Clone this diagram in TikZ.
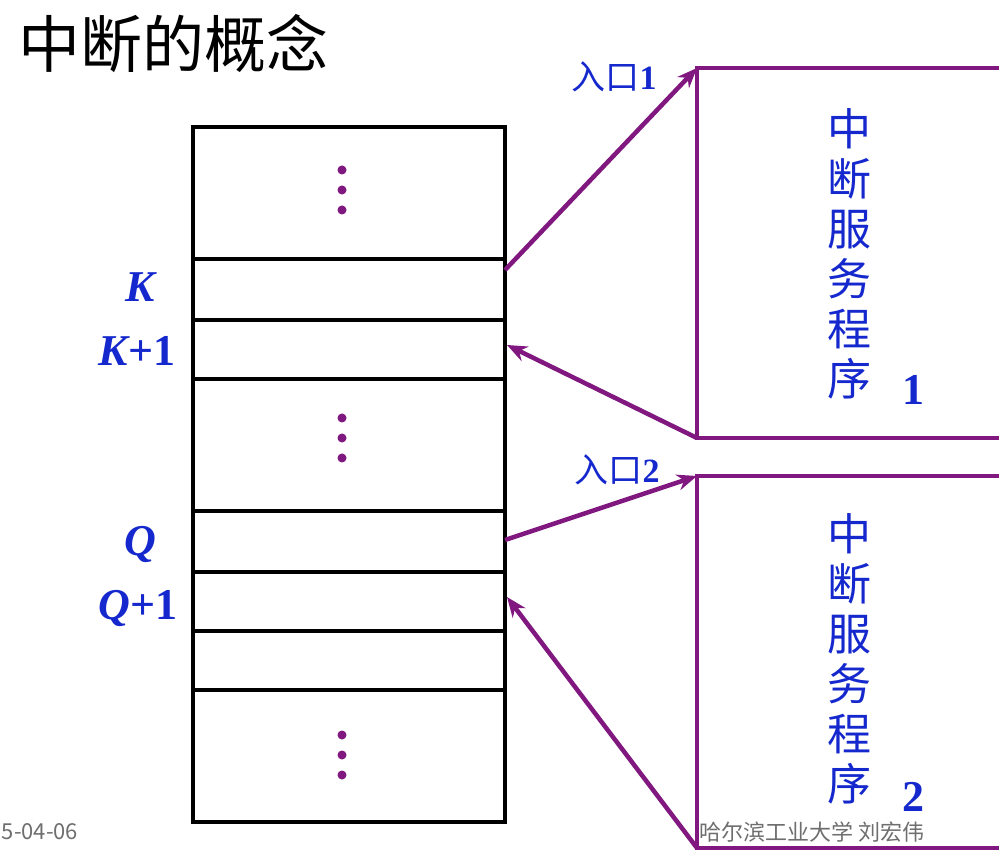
\documentclass[tikz,border=0pt]{standalone}
\usepackage{fontspec}
\setmainfont{Liberation Serif}
\newfontfamily\cjk{Noto Sans CJK SC}
\usetikzlibrary{arrows.meta}
\definecolor{lblue}{RGB}{20,40,205}
\definecolor{lpurple}{RGB}{128,24,128}
\definecolor{lgray}{RGB}{110,110,110}
\begin{document}
\begin{tikzpicture}[x=1pt,y=-1pt,
  memline/.style={line width=3.5pt,black},
  purp/.style={line width=4.5pt,lpurple},
  parrow/.style={line width=4.5pt,lpurple,-{Stealth[length=20pt,width=16pt]}},
  addr/.style={text=lblue,font=\bfseries\itshape\fontsize{44}{44}\selectfont,inner sep=0pt},
  entry/.style={text=lblue,font=\bfseries\fontsize{34}{34}\selectfont,inner sep=0pt},
  vtext/.style={text=lblue,font=\cjk\fontsize{44}{50}\selectfont,align=center,inner sep=0pt},
  num/.style={text=lblue,font=\bfseries\fontsize{44}{44}\selectfont,inner sep=0pt},
  dot/.style={circle,fill=lpurple,inner sep=0pt,minimum size=9pt},
  foot/.style={text=lgray,font=\cjk\fontsize{22}{22}\selectfont,inner sep=0pt}]
\useasboundingbox[fill=white] (0,0) rectangle (999,858);
% title
\node[font=\cjk\fontsize{62}{62}\selectfont,inner sep=0pt] (title) at (174,44) {中断的概念};
% memory table
\draw[memline] (193,127) rectangle (505,822);
\foreach \y in {259,320,379,511,572,631,690}
  \draw[memline] (193,\y) -- (505,\y);
\foreach \y in {170,190,210,418,438,458,735,755,775}
  \node[dot] at (342,\y) {};
% addresses
\node[addr] (K) at (140,287) {K};
\node[addr] (K1) at (137,351) {K\upshape+1};
\node[addr] (Q) at (140,544) {Q};
\node[addr] (Q1) at (138,608) {Q\upshape+1};
% service routine boxes (open on the right)
\draw[purp] (1005,68) -- (697,68) -- (697,438) -- (1005,438);
\draw[purp] (1005,476) -- (697,476) -- (697,848) -- (1005,848);
\coordinate (b1top) at (697,68);
\coordinate (b1bot) at (697,438);
\coordinate (b2top) at (697,476);
\coordinate (b2bot) at (697,848);
\coordinate (kout) at (505,270);
\coordinate (k1in) at (507,345);
\coordinate (qout) at (505,540);
\coordinate (q1in) at (507,597);
\draw[parrow] (kout) -- (b1top);
\draw[parrow] (b1bot) -- (k1in);
\draw[parrow] (qout) -- (b2top);
\draw[parrow] (b2bot) -- (q1in);
% labels
\node[entry] (e1) at (614,77) {{\cjk\mdseries 入口}1};
\node[entry] (e2) at (617,470) {{\cjk\mdseries 入口}2};
\node[vtext] (s1) at (849,254) {中\\断\\服\\务\\程\\序};
\node[num] (n1) at (913,390) {1};
\node[vtext] (s2) at (849,659) {中\\断\\服\\务\\程\\序};
\node[num] (n2) at (913,797) {2};
% footer
\node[foot] (date) at (40,832) {5-04-06};
\node[foot] (author) at (812,832) {哈尔滨工业大学\ 刘宏伟};
\end{tikzpicture}
\end{document}
